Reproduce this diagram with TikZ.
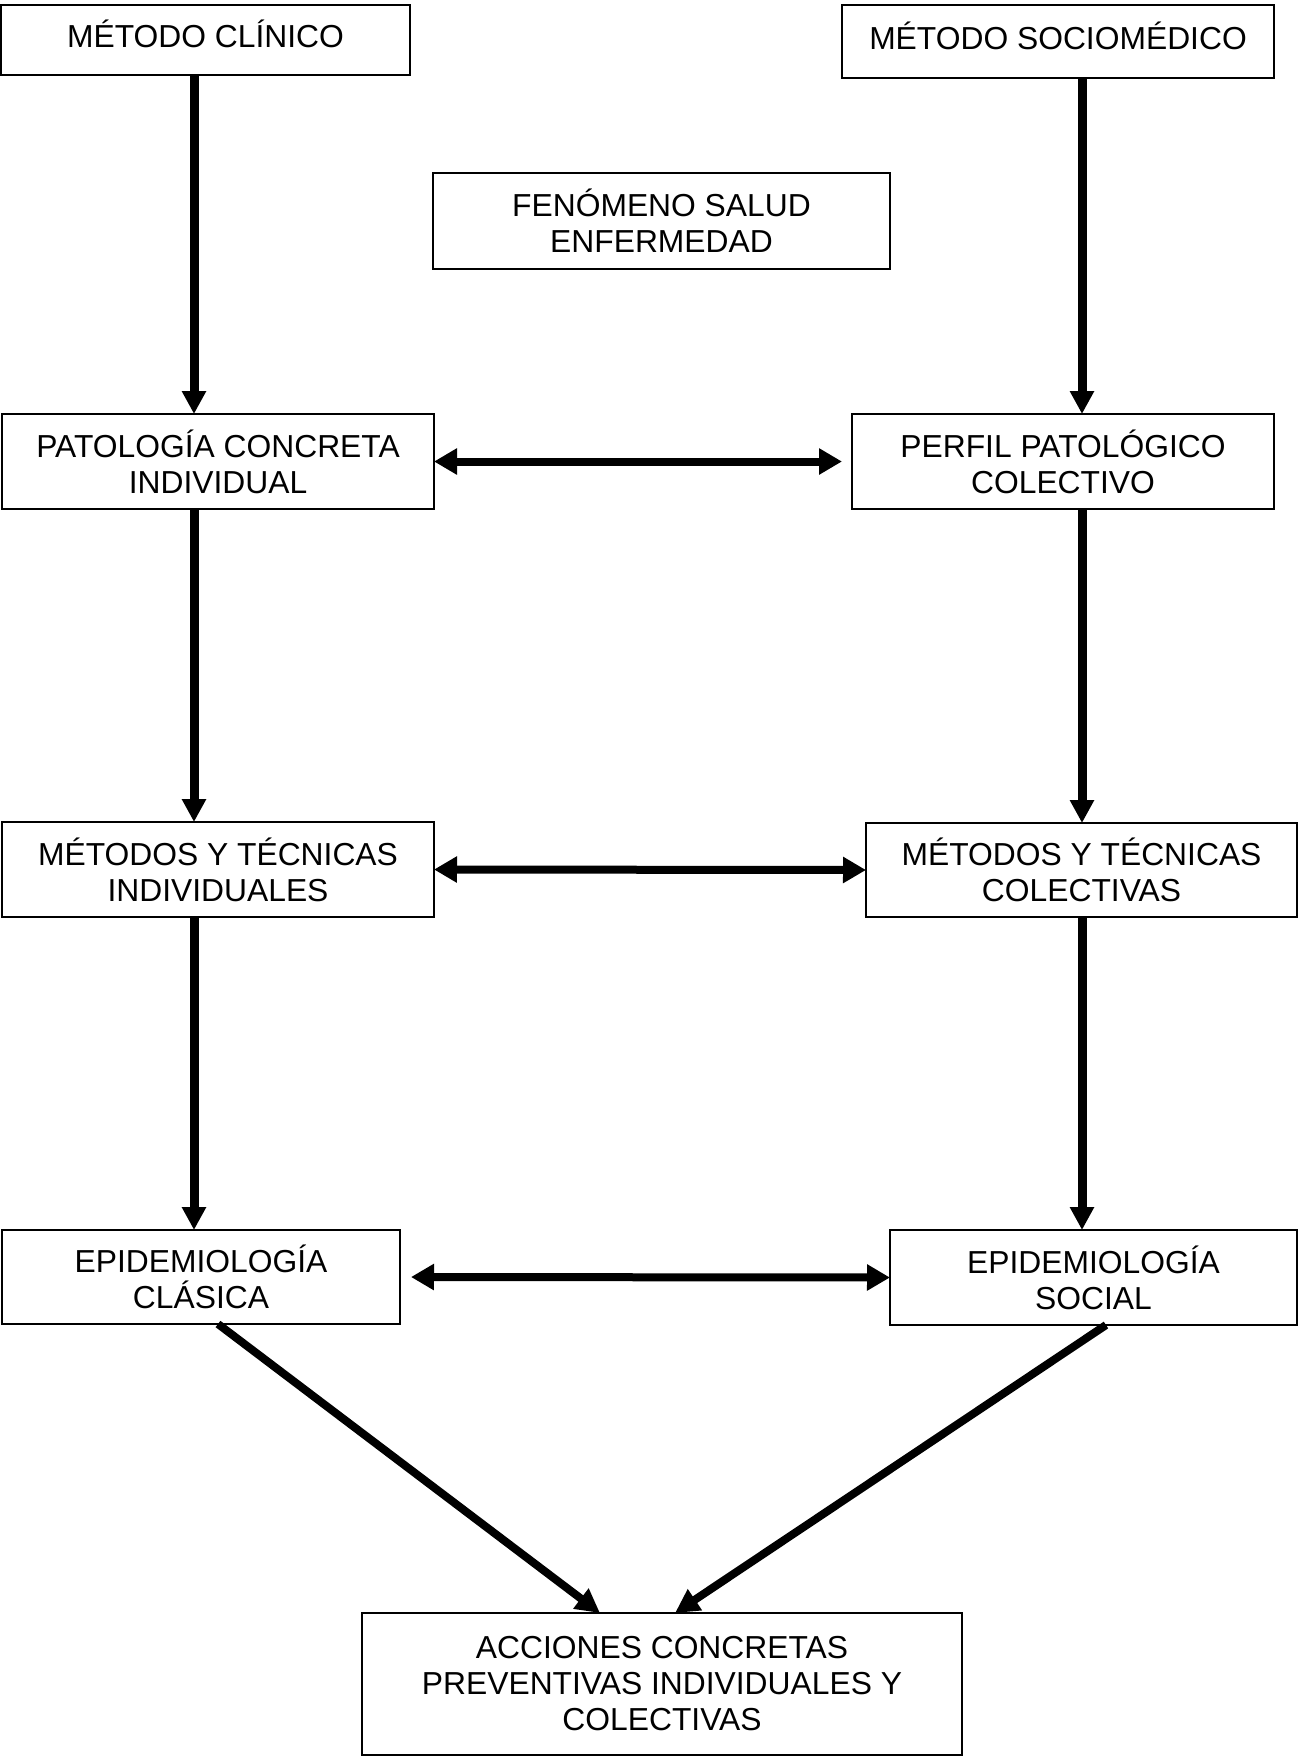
\documentclass[tikz,border=0pt]{standalone}
\usepackage{fontspec}
\setmainfont{Liberation Sans}
\usetikzlibrary{arrows.meta,calc}
\begin{document}
\begin{tikzpicture}[x=0.5pt,y=-0.5pt,
  box/.style={draw=black,line width=1pt,inner sep=0pt,outer sep=0pt,align=center,
    font=\fontsize{15.9}{18}\selectfont},
  varr/.style={line width=4.5pt,-{Triangle[length=11.5pt,width=11.5pt]}},
  dbl/.style={line width=4pt,{Triangle[length=11.5pt,width=12.5pt]}-{Triangle[length=11.5pt,width=12.5pt]}},
  darr/.style={line width=4pt,-{Triangle[length=12pt,width=12pt]}}]
\useasboundingbox (0,0) rectangle (1298,1758);
\node[box,minimum width=204.5pt,minimum height=35pt,text depth=6pt] (clin) at (205.5,40) {MÉTODO CLÍNICO};
\node[box,minimum width=216pt,minimum height=36.5pt,text depth=6pt] (socio) at (1058,41.5) {MÉTODO SOCIOMÉDICO};
\node[box,minimum width=228.5pt,minimum height=48pt] (fen) at (661.5,221) {FENÓMENO SALUD\\ENFERMEDAD};
\node[box,minimum width=216pt,minimum height=47.5pt] (pat) at (218,461.5) {PATOLOGÍA CONCRETA\\INDIVIDUAL};
\node[box,minimum width=211pt,minimum height=47.5pt] (perf) at (1063,461.5) {PERFIL PATOLÓGICO\\COLECTIVO};
\node[box,minimum width=216pt,minimum height=47.5pt] (ind) at (218,869.5) {MÉTODOS Y TÉCNICAS\\INDIVIDUALES};
\node[box,minimum width=215.5pt,minimum height=47pt] (col) at (1081.5,870) {MÉTODOS Y TÉCNICAS\\COLECTIVAS};
\node[box,minimum width=199pt,minimum height=47pt] (cla) at (201,1277) {EPIDEMIOLOGÍA\\CLÁSICA};
\node[box,minimum width=203.5pt,minimum height=47.5pt] (soc) at (1093.5,1277.5) {EPIDEMIOLOGÍA\\SOCIAL};
\node[box,minimum width=300pt,minimum height=71pt] (acc) at (662,1684) {ACCIONES CONCRETAS\\PREVENTIVAS INDIVIDUALES Y\\COLECTIVAS};
\coordinate (colL) at (194,0);
\coordinate (colR) at (1082,0);
\draw[varr] (clin.south -| colL) -- (pat.north -| colL);
\draw[varr] (pat.south -| colL) -- (ind.north -| colL);
\draw[varr] (ind.south -| colL) -- (cla.north -| colL);
\draw[varr] (socio.south -| colR) -- (perf.north -| colR);
\draw[varr] (perf.south -| colR) -- (col.north -| colR);
\draw[varr] (col.south -| colR) -- (soc.north -| colR);
\draw[dbl] (pat.east) -- ([xshift=-5pt]perf.west);
\draw[dbl] (ind.east) -- (col.west);
\draw[dbl] ([xshift=5.5pt]cla.east) -- (soc.west);
\draw[darr] ([xshift=8.5pt]cla.south) -- ([xshift=-31pt]acc.north);
\draw[darr] ([xshift=6.25pt]soc.south) -- ([xshift=6.5pt]acc.north);
\end{tikzpicture}
\end{document}
